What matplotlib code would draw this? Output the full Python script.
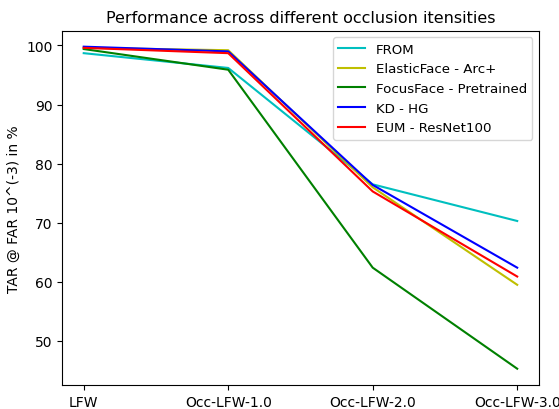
import matplotlib
matplotlib.use("Agg")
import matplotlib.pyplot as plt

datasets = ["LFW", "Occ-LFW-1.0", "Occ-LFW-2.0", "Occ-LFW-3.0"]

from_vals = [98.7, 96.2, 76.5, 70.3]
elastic_vals = [99.6, 99.2, 76.0, 59.5]
focus_vals = [99.4, 95.9, 62.4, 45.3]
kd_vals = [99.8, 99.0, 76.4, 62.4]
eum_vals = [99.6, 98.7, 75.3, 60.9]

if __name__ == '__main__':
    fig, ax = plt.subplots(figsize=(5.59, 4.10), dpi=100)
    ax.plot(datasets, from_vals, color="c", label="FROM")
    ax.plot(datasets, elastic_vals, color="y", label="ElasticFace - Arc+")
    ax.plot(datasets, focus_vals, color="g", label="FocusFace - Pretrained")
    ax.plot(datasets, kd_vals, color="b", label="KD - HG")
    ax.plot(datasets, eum_vals, color="r", label="EUM - ResNet100")
    ax.set_title("Performance across different occlusion itensities", fontsize=11.5)
    ax.set_ylabel("TAR @ FAR 10^(-3) in %")
    ax.legend(loc="upper right", fontsize=9.6)
    # 轴的位置按参考图量出来
    fig.subplots_adjust(left=0.111, right=0.964, top=0.923, bottom=0.059)
    fig.savefig("out.png")
